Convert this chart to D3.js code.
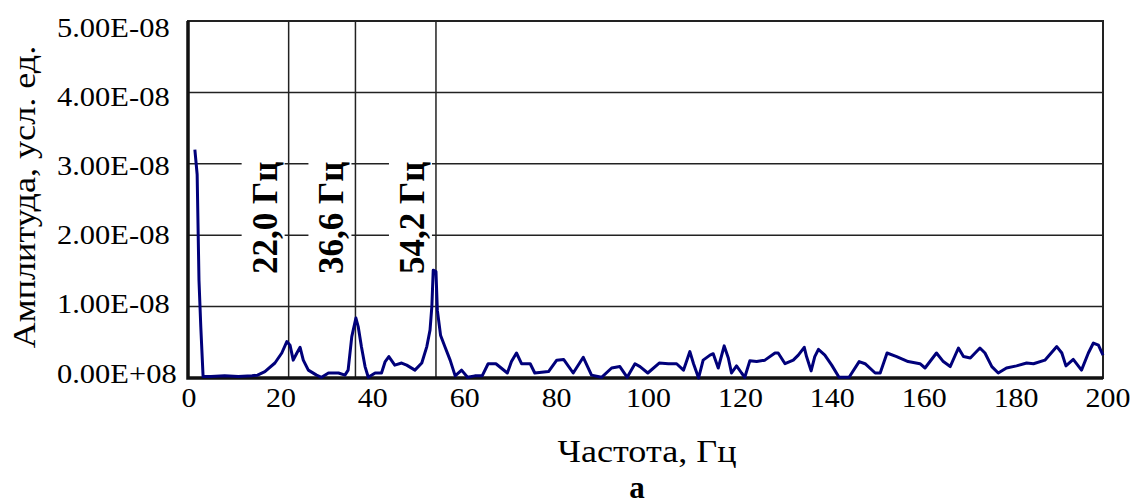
<!DOCTYPE html>
<html>
<head>
<meta charset="utf-8">
<script src="https://cdn.jsdelivr.net/npm/d3@7"></script>
<style>
  body { margin: 0; background: #fff; }
  text { font-family: "Liberation Serif", "Times New Roman", serif; fill: #000; }
</style>
</head>
<body>
<script>
// spectrum, amplitude in units of 1e-8
var freq = [1.5, 2.0, 2.4, 2.8, 3.3, 5, 8, 11, 14, 15.2, 16.8, 19, 20.5, 21.6, 22.3, 23, 23.8, 24.5, 25.2,
  26.3, 28.1, 29.2, 30.7, 32.9, 34.3, 35, 35.8, 36.7, 37.2, 37.9, 38.7, 39.4, 40.9, 42.3, 43.1, 43.9,
  45.2, 46.7, 47.8, 49.6, 51.1, 52.2, 52.9, 53.3, 53.6, 54.2, 54.5, 55.2, 56.2, 57.3, 58.4, 59.8, 61.1,
  62.7, 64.3, 65.6, 67.3, 69.8, 70.7, 71.8, 72.9, 74.8, 75.8, 78.8, 80.6, 82.1, 84.2, 86.4, 88.2, 90.4,
  92.6, 94.4, 96.0, 97.7, 98.8, 100.5, 103.0, 105, 106.8, 108.3, 109.7, 110.5, 111.6, 112.6, 114.1,
  114.8, 115.9, 117.2, 118.1, 118.8, 119.9, 121.0, 121.7, 122.8, 124.3, 126.1, 128.3, 129.0, 130.5,
  132.3, 133.4, 134.7, 135.2, 136.2, 137.0, 137.8, 139.2, 140.7, 142.3, 144.5, 146.7, 148.0, 150.2,
  151.3, 152.8, 154.9, 157.4, 160.0, 161.1, 163.6, 165.1, 166.6, 168.4, 169.5, 171.0, 173.1, 174.2,
  175.7, 177.1, 178.9, 181.1, 183.3, 184.8, 187.3, 189.9, 191.0, 191.9, 193.5, 195.3, 196.8, 197.9,
  199.0, 200];
var amp = [3.2, 2.85, 1.37, 0.71, 0.02, 0.02, 0.03, 0.02, 0.03, 0.04, 0.09, 0.21, 0.35, 0.51, 0.46, 0.25, 0.35, 0.43, 0.25,
  0.11, 0.04, 0.01, 0.07, 0.07, 0.04, 0.11, 0.58, 0.84, 0.72, 0.44, 0.16, 0.01, 0.07, 0.07, 0.23, 0.30,
  0.18, 0.21, 0.18, 0.11, 0.21, 0.44, 0.67, 1.0, 1.51, 1.49, 0.95, 0.60, 0.43, 0.25, 0.03, 0.11, 0.01,
  0.03, 0.03, 0.20, 0.20, 0.07, 0.23, 0.35, 0.20, 0.20, 0.07, 0.09, 0.25, 0.26, 0.07, 0.29, 0.04, 0.01,
  0.14, 0.16, 0.01, 0.20, 0.16, 0.07, 0.21, 0.20, 0.20, 0.11, 0.37, 0.20, 0.0, 0.25, 0.32,
  0.34, 0.14, 0.45, 0.28, 0.07, 0.17, 0.07, 0.01, 0.24, 0.23, 0.25, 0.35, 0.35, 0.20,
  0.25, 0.32, 0.43, 0.30, 0.10, 0.30, 0.40, 0.32, 0.18, 0.01, 0.01, 0.23, 0.20, 0.07,
  0.07, 0.35, 0.30, 0.23, 0.20, 0.14, 0.35, 0.23, 0.16, 0.42, 0.30, 0.28, 0.42, 0.35,
  0.16, 0.07, 0.14, 0.17, 0.21, 0.20, 0.25, 0.44, 0.35, 0.17, 0.26, 0.11, 0.35, 0.49,
  0.46, 0.32];

var markers = [22.0, 36.6, 54.2];
var markerLabels = ["22,0 Гц", "36,6 Гц", "54,2 Гц"];

var xTicks = [0, 20, 40, 60, 80, 100, 120, 140, 160, 180, 200];
var yTicks = [0, 1e-8, 2e-8, 3e-8, 4e-8, 5e-8];
var yTickLabels = ["0.00E+08", "1.00E-08", "2.00E-08", "3.00E-08", "4.00E-08", "5.00E-08"];

var data = freq.map(function (f, i) { return [f, amp[i] * 1e-8]; });

var width = 1134, height = 504;
var stretch = 1.13; // the original font runs wider than Liberation Serif

var x = d3.scaleLinear().domain([0, 200]).range([188, 1103]);
var y = d3.scaleLinear().domain([0, 5e-8]).range([378, 21]);
// label positions are spread slightly differently from the grid
var xLab = d3.scaleLinear().domain([0, 200]).range([189, 1108]);
var yLab = d3.scaleLinear().domain([0, 5e-8]).range([373, 27.5]);

var svg = d3.select("body").append("svg")
  .attr("width", width)
  .attr("height", height);

// horizontal grid
svg.append("g").selectAll("line")
  .data(yTicks.slice(1))
  .enter().append("line")
  .attr("x1", x(0)).attr("x2", x(200))
  .attr("y1", function (d) { return y(d); })
  .attr("y2", function (d) { return y(d); })
  .attr("stroke", "#222")
  .attr("stroke-width", 1.5);

// white boxes behind annotations
svg.append("g").selectAll("rect")
  .data(markers)
  .enter().append("rect")
  .attr("x", function (d) { return x(d) - 47; })
  .attr("y", 148)
  .attr("width", 43)
  .attr("height", 132)
  .attr("fill", "#fff");

// marker lines
svg.append("g").selectAll("line")
  .data(markers)
  .enter().append("line")
  .attr("x1", function (d) { return x(d); })
  .attr("x2", function (d) { return x(d); })
  .attr("y1", y(5e-8)).attr("y2", y(0))
  .attr("stroke", "#222")
  .attr("stroke-width", 1.5);

svg.append("g").selectAll("text")
  .data(markers)
  .enter().append("text")
  .attr("transform", function (d) { return "translate(" + (x(d) - 12) + "," + 274 + ") rotate(-90)"; })
  .attr("font-size", 35)
  .attr("font-weight", "bold")
  .text(function (d, i) { return markerLabels[i]; });

// frame: top/right thin, left/bottom thick
svg.append("rect")
  .attr("x", x(0)).attr("y", y(5e-8))
  .attr("width", x(200) - x(0)).attr("height", y(0) - y(5e-8))
  .attr("fill", "none").attr("stroke", "#222").attr("stroke-width", 2);
svg.append("path")
  .attr("d", "M" + x(0) + "," + y(5e-8) + "V" + y(0) + "H" + x(200))
  .attr("fill", "none").attr("stroke", "#111").attr("stroke-width", 3.5);

// spectrum line
var line = d3.line()
  .x(function (d) { return x(d[0]); })
  .y(function (d) { return y(d[1]); });

svg.append("path")
  .datum(data)
  .attr("d", line)
  .attr("fill", "none")
  .attr("stroke", "#00007a")
  .attr("stroke-width", 3)
  .attr("stroke-linejoin", "round");

// tick labels
svg.append("g").selectAll("text")
  .data(yTicks)
  .enter().append("text")
  .attr("transform", function (d) { return "translate(57," + (yLab(d) + 9.5) + ") scale(" + stretch + ",1)"; })
  .attr("font-size", 27)
  .text(function (d, i) { return yTickLabels[i]; });

svg.append("g").selectAll("text")
  .data(xTicks)
  .enter().append("text")
  .attr("transform", function (d) { return "translate(" + xLab(d) + ",407) scale(1.07,1)"; })
  .attr("text-anchor", "middle")
  .attr("font-size", 28)
  .text(function (d) { return d; });

// axis titles
svg.append("text")
  .attr("transform", "translate(35,197) rotate(-90) scale(" + stretch + ",1)")
  .attr("text-anchor", "middle")
  .attr("font-size", 32)
  .text("Амплитуда, усл. ед.");

svg.append("text")
  .attr("transform", "translate(647,462) scale(" + stretch + ",1)")
  .attr("text-anchor", "middle")
  .attr("font-size", 32)
  .text("Частота, Гц");

svg.append("text")
  .attr("x", 637).attr("y", 498)
  .attr("text-anchor", "middle")
  .attr("font-size", 31)
  .attr("font-weight", "bold")
  .text("а");
</script>
</body>
</html>
